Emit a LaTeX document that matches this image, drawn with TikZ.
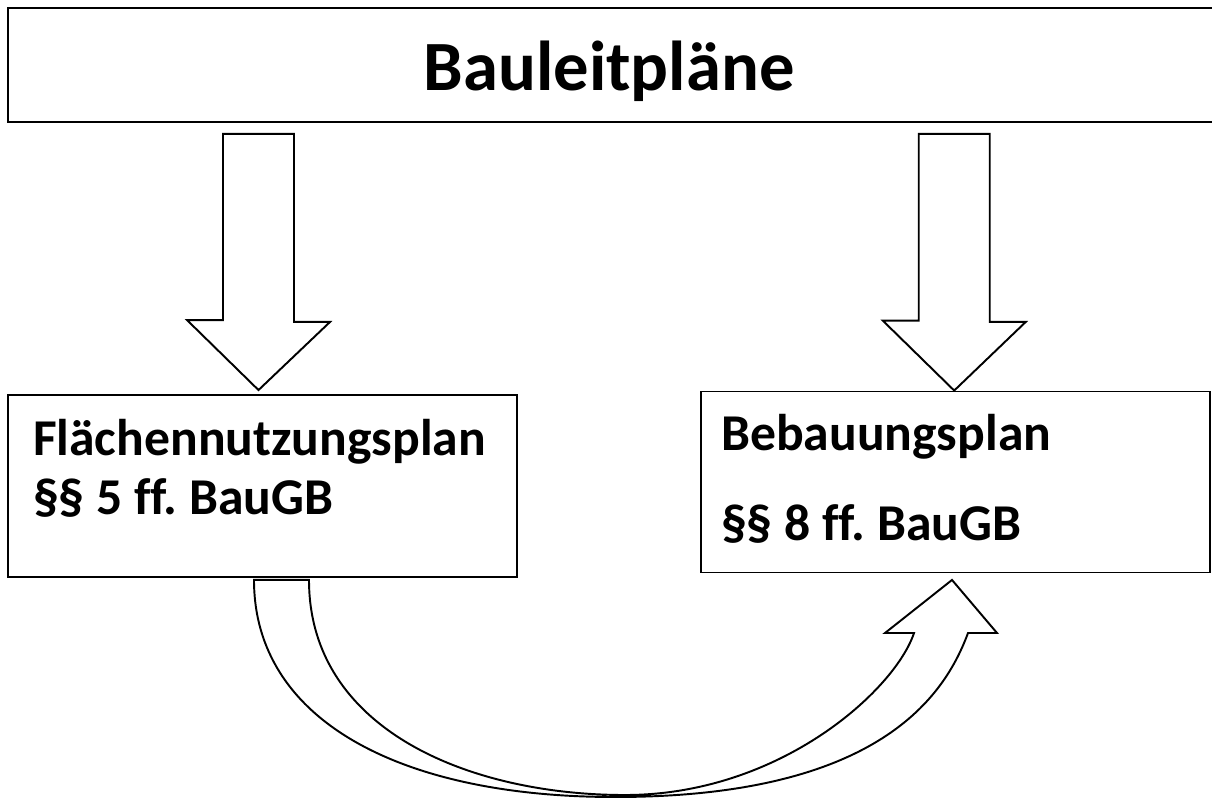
\documentclass[tikz,border=0pt]{standalone}
\usepackage{fontspec}
\setmainfont{Carlito}[Ligatures=NoCommon]
\frenchspacing
\usetikzlibrary{calc}

\begin{document}
\begin{tikzpicture}[x=0.02cm, y=-0.02cm, line width=1.1pt]
        \tikzstyle{box} = [rectangle, draw=black, inner sep=0pt, minimum width=10.18cm]
        \tikzstyle{heading} = [anchor=base, inner sep=0pt, font=\fontsize{40.2}{48}\selectfont\bfseries]
        \tikzstyle{entry} = [anchor=base west, inner sep=0pt, font=\fontsize{29.4}{35}\selectfont\bfseries]
        \tikzstyle{blockarrow} = [draw=black, fill=white, line join=miter]

        \useasboundingbox (0,0) rectangle (1212,800);

        \node (bauleitplaene) [box, minimum width=24.16cm, minimum height=2.28cm] at (612,65) {};
        \node (titel) [heading] at ($(bauleitplaene.south)+(-3,-32)$) {Bauleitpläne};

        \node (flaechennutzung) [box, minimum height=3.64cm] at (262.5,486) {};
        \node (fnpname) [entry] at ($(flaechennutzung.north west)+(25,61.7)$) {Flächennutzungsplan};
        \node (fnpnorm) [entry] at ($(fnpname.base west)+(0,58.3)$) {§§ 5 ff. BauGB};

        \node (bebauung) [box, minimum height=3.62cm] at (955.5,482) {};
        \node (bpname) [entry] at ($(bebauung.north west)+(20,60.2)$) {Bebauungsplan};
        \node (bpnorm) [entry] at ($(bpname.base west)+(0,90)$) {§§ 8 ff. BauGB};

        \coordinate (col1) at (258.5,0);
        \coordinate (col2) at (954.2,0);
        \foreach \c/\dst/\gap in {col1/flaechennutzung/4, col2/bebauung/0}
            \draw [blockarrow] ($(bauleitplaene.south -| \c)+(-35.5,11)$) -- ++(71,0) -- ++(0,188) -- ++(36,0)
                -- ($(\dst.north -| \c)+(0,-\gap)$) -- ++(-71.5,-70) -- ++(36,0) -- cycle;

        \coordinate (from) at ($(flaechennutzung.south)+(-8.5,2)$);
        \coordinate (to) at ($(bebauung.south)+(-3.5,6.5)$);
        \draw [blockarrow] (from) -- ++(55,0) .. controls (309,730) and (470,795) .. (625,795)
            .. controls (780,795) and (895,690) .. (914,633) -- (885,633) -- (to) -- (997,633) -- (968,633)
            .. controls (945,695) and (880,797) .. (615,797) .. controls (400,797) and (254,720) .. (from) -- cycle;
    \end{tikzpicture}
\end{document}
